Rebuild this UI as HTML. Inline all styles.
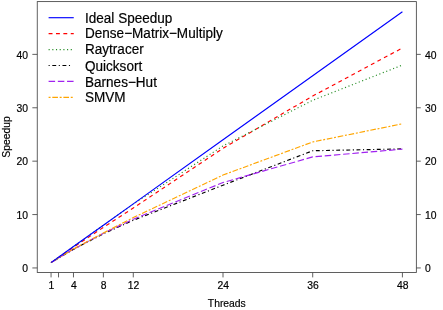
<!DOCTYPE html>
<html><head><meta charset="utf-8"><title>Speedup</title>
<style>
html,body{margin:0;padding:0;background:#fff;}
body{width:443px;height:310px;overflow:hidden;font-family:"Liberation Sans",sans-serif;}
svg{display:block;}
text{font-family:"Liberation Sans",sans-serif;fill:#000;stroke:#000;stroke-width:0.18px;}
.ax{font-size:10.35px;}
.lg{font-size:13.55px;}
</style></head><body>
<svg width="443" height="310" viewBox="0 0 443 310">
<defs><filter id="soft" x="0" y="0" width="443" height="310" filterUnits="userSpaceOnUse"><feGaussianBlur stdDeviation="0.35"/></filter></defs>
<rect x="0" y="0" width="443" height="310" fill="#fff"/>
<g filter="url(#soft)">

<g fill="none" stroke-width="1.15" stroke-linecap="butt" stroke-linejoin="round">
<polyline points="51.05,262.61 58.53,257.54 73.48,247.23 103.38,227.37 133.29,207.99 223.00,148.36 312.71,96.03 402.42,47.98" stroke="#ff0000" stroke-dasharray="3.9 3.48"/>
<polyline points="51.05,262.61 58.53,257.27 73.48,246.59 103.38,225.24 133.29,204.15 223.00,145.95 312.71,100.31 402.42,65.07" stroke="#228b22" stroke-dasharray="1.1 2.59"/>
<polyline points="51.05,262.61 58.53,258.07 73.48,249.37 103.38,233.78 133.29,220.27 223.00,185.20 312.71,150.76 402.42,148.89" stroke="#000000" stroke-dasharray="1.1 2.59 3.9 2.57"/>
<polyline points="51.05,262.61 58.53,258.07 73.48,249.16 103.38,233.25 133.29,219.20 223.00,182.53 312.71,156.90 402.42,149.16" stroke="#a020f0" stroke-dasharray="6.5 2.73"/>
<polyline points="51.05,262.61 58.53,257.81 73.48,248.94 103.38,232.98 133.29,217.60 223.00,175.05 312.71,141.95 402.42,123.80" stroke="#ffa500" stroke-dasharray="1.95 1.75 5.64 1.75"/>
<polyline points="51.05,262.61 58.53,257.27 73.48,246.59 103.38,225.24 133.29,203.88 223.00,139.81 312.71,75.75 402.42,11.68" stroke="#0000ff"/>
</g>
<g fill="none" stroke="#444" stroke-width="0.85" stroke-linecap="butt">
<rect x="37.25" y="1.60" width="379.10" height="270.90"/>
<line x1="51.05" y1="272.50" x2="51.05" y2="277.40"/>
<line x1="58.53" y1="272.50" x2="58.53" y2="277.40"/>
<line x1="73.48" y1="272.50" x2="73.48" y2="277.40"/>
<line x1="103.38" y1="272.50" x2="103.38" y2="277.40"/>
<line x1="133.29" y1="272.50" x2="133.29" y2="277.40"/>
<line x1="223.00" y1="272.50" x2="223.00" y2="277.40"/>
<line x1="312.71" y1="272.50" x2="312.71" y2="277.40"/>
<line x1="402.42" y1="272.50" x2="402.42" y2="277.40"/>
<line x1="32.35" y1="267.95" x2="37.25" y2="267.95"/>
<line x1="416.35" y1="267.95" x2="420.75" y2="267.95"/>
<line x1="32.35" y1="214.56" x2="37.25" y2="214.56"/>
<line x1="416.35" y1="214.56" x2="420.75" y2="214.56"/>
<line x1="32.35" y1="161.17" x2="37.25" y2="161.17"/>
<line x1="416.35" y1="161.17" x2="420.75" y2="161.17"/>
<line x1="32.35" y1="107.78" x2="37.25" y2="107.78"/>
<line x1="416.35" y1="107.78" x2="420.75" y2="107.78"/>
<line x1="32.35" y1="54.39" x2="37.25" y2="54.39"/>
<line x1="416.35" y1="54.39" x2="420.75" y2="54.39"/>
</g>
<g class="ax">
<text x="51.35" y="288.9" text-anchor="middle">1</text>
<text x="73.78" y="288.9" text-anchor="middle">4</text>
<text x="103.68" y="288.9" text-anchor="middle">8</text>
<text x="133.59" y="288.9" text-anchor="middle">12</text>
<text x="223.30" y="288.9" text-anchor="middle">24</text>
<text x="313.01" y="288.9" text-anchor="middle">36</text>
<text x="402.72" y="288.9" text-anchor="middle">48</text>
<text x="27.9" y="272.15" text-anchor="end">0</text>
<text x="425.0" y="272.15" text-anchor="start">0</text>
<text x="27.9" y="218.76" text-anchor="end">10</text>
<text x="425.0" y="218.76" text-anchor="start">10</text>
<text x="27.9" y="165.37" text-anchor="end">20</text>
<text x="425.0" y="165.37" text-anchor="start">20</text>
<text x="27.9" y="111.98" text-anchor="end">30</text>
<text x="425.0" y="111.98" text-anchor="start">30</text>
<text x="27.9" y="58.59" text-anchor="end">40</text>
<text x="425.0" y="58.59" text-anchor="start">40</text>
<text x="226.8" y="306.7" text-anchor="middle">Threads</text>
<text transform="translate(9.9,137) rotate(-90)" text-anchor="middle">Speedup</text>
</g>
<g fill="none" stroke-width="1.15" stroke-linecap="butt">
<line x1="48.6" y1="17.70" x2="73.75" y2="17.70" stroke="#0000ff"/>
<line x1="48.6" y1="33.63" x2="73.75" y2="33.63" stroke="#ff0000" stroke-dasharray="3.9 3.48"/>
<line x1="48.6" y1="49.56" x2="73.75" y2="49.56" stroke="#228b22" stroke-dasharray="1.1 2.59"/>
<line x1="48.6" y1="65.49" x2="71.00" y2="65.49" stroke="#000000" stroke-dasharray="1.1 2.59 3.9 2.57"/>
<line x1="48.6" y1="81.42" x2="73.75" y2="81.42" stroke="#a020f0" stroke-dasharray="6.5 2.73"/>
<line x1="48.6" y1="97.35" x2="73.00" y2="97.35" stroke="#ffa500" stroke-dasharray="1.95 1.75 5.64 1.75"/>
</g>
<g class="lg">
<text transform="translate(85.0,22.70) scale(1,1.03)">Ideal Speedup</text>
<text transform="translate(85.0,38.48) scale(1,1.03)">Dense−Matrix−Multiply</text>
<text transform="translate(85.0,54.31) scale(1,1.03)">Raytracer</text>
<text transform="translate(85.0,71.09) scale(1,1.03)">Quicksort</text>
<text transform="translate(85.0,86.97) scale(1,1.03)">Barnes−Hut</text>
<text transform="translate(85.0,102.35) scale(1,1.03)">SMVM</text>
</g>
</g></svg></body></html>
